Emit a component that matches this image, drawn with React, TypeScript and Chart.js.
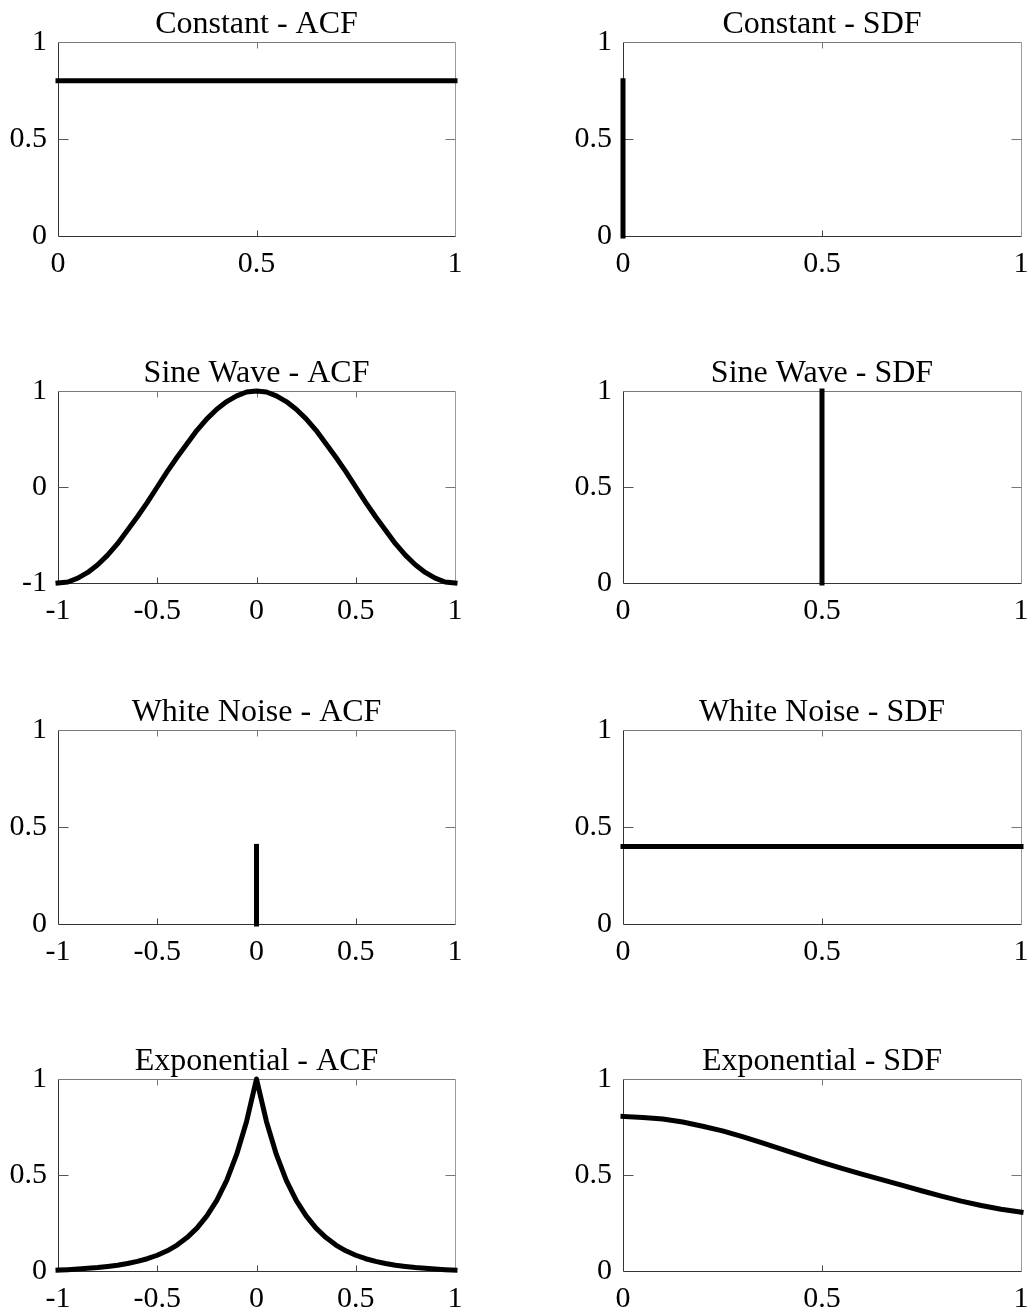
import React, { useEffect, useRef } from 'react';
import { Chart, registerables } from 'chart.js';

Chart.register(...registerables);

// Tick positions
const lagTicks = [-1, -0.5, 0, 0.5, 1];
const freqTicks = [0, 0.5, 1];
const unitTicks = [0, 0.5, 1];
const sineTicks = [-1, 0, 1];

// Constant process
const constantAcfLag = [0, 1];
const constantAcfValue = [0.8, 0.8];
const constantSdfFreq = [0, 0];
const constantSdfValue = [0, 0.8];

// Shared lag grid for the sampled ACF curves
const lagGrid = [
  -1, -0.95, -0.9, -0.85, -0.8, -0.75, -0.7, -0.65, -0.6, -0.55, -0.5, -0.45, -0.4, -0.35, -0.3, -0.25, -0.2,
  -0.15, -0.1, -0.05, 0, 0.05, 0.1, 0.15, 0.2, 0.25, 0.3, 0.35, 0.4, 0.45, 0.5, 0.55, 0.6, 0.65, 0.7, 0.75,
  0.8, 0.85, 0.9, 0.95, 1,
];

// Sine wave
const sineAcfValue = [
  -1, -0.99, -0.95, -0.89, -0.81, -0.71, -0.59, -0.45, -0.31, -0.16, 0, 0.16, 0.31, 0.45, 0.59, 0.71, 0.81,
  0.89, 0.95, 0.99, 1, 0.99, 0.95, 0.89, 0.81, 0.71, 0.59, 0.45, 0.31, 0.16, 0, -0.16, -0.31, -0.45, -0.59,
  -0.71, -0.81, -0.89, -0.95, -0.99, -1,
];
const sineSdfFreq = [0.5, 0.5];
const sineSdfValue = [0, 1];

// White noise
const noiseAcfLag = [0, 0];
const noiseAcfValue = [0, 0.4];
const noiseSdfFreq = [0, 1];
const noiseSdfValue = [0.4, 0.4];

// Exponential
const expAcfValue = [
  0.005, 0.007, 0.01, 0.014, 0.018, 0.024, 0.03, 0.039, 0.05, 0.064, 0.082, 0.105, 0.135, 0.174, 0.223,
  0.287, 0.368, 0.472, 0.607, 0.779, 1, 0.779, 0.607, 0.472, 0.368, 0.287, 0.223, 0.174, 0.135, 0.105,
  0.082, 0.064, 0.05, 0.039, 0.03, 0.024, 0.018, 0.014, 0.01, 0.007, 0.005,
];
const expSdfFreq = [
  0, 0.05, 0.1, 0.15, 0.2, 0.25, 0.3, 0.35, 0.4, 0.45, 0.5, 0.55, 0.6, 0.65, 0.7, 0.75, 0.8, 0.85, 0.9, 0.95, 1,
];
const expSdfValue = [
  0.805, 0.8, 0.792, 0.776, 0.754, 0.73, 0.7, 0.667, 0.633, 0.599, 0.566, 0.535, 0.505, 0.476, 0.447, 0.418,
  0.39, 0.364, 0.341, 0.322, 0.307,
];

type PanelSpec = {
  title: string;
  xs: number[];
  ys: number[];
  xTicks: number[];
  yTicks: number[];
  row: number;
  col: number;
};

const panels: PanelSpec[] = [
  { title: 'Constant - ACF', xs: constantAcfLag, ys: constantAcfValue, xTicks: freqTicks, yTicks: unitTicks, row: 0, col: 0 },
  { title: 'Constant - SDF', xs: constantSdfFreq, ys: constantSdfValue, xTicks: freqTicks, yTicks: unitTicks, row: 0, col: 1 },
  { title: 'Sine Wave - ACF', xs: lagGrid, ys: sineAcfValue, xTicks: lagTicks, yTicks: sineTicks, row: 1, col: 0 },
  { title: 'Sine Wave - SDF', xs: sineSdfFreq, ys: sineSdfValue, xTicks: freqTicks, yTicks: unitTicks, row: 1, col: 1 },
  { title: 'White Noise - ACF', xs: noiseAcfLag, ys: noiseAcfValue, xTicks: lagTicks, yTicks: unitTicks, row: 2, col: 0 },
  { title: 'White Noise - SDF', xs: noiseSdfFreq, ys: noiseSdfValue, xTicks: freqTicks, yTicks: unitTicks, row: 2, col: 1 },
  { title: 'Exponential - ACF', xs: lagGrid, ys: expAcfValue, xTicks: lagTicks, yTicks: unitTicks, row: 3, col: 0 },
  { title: 'Exponential - SDF', xs: expSdfFreq, ys: expSdfValue, xTicks: freqTicks, yTicks: unitTicks, row: 3, col: 1 },
];

// Page geometry of the plot boxes
const ROW_BOUNDS = [
  [42, 236],
  [391, 583],
  [730, 924],
  [1079, 1271],
];
const COL_BOUNDS = [
  [58, 455],
  [623, 1021],
];
const COL_CANVAS = [
  [0, 515],
  [515, 516],
];
const TITLE_H = 42;
const BELOW_H = 60;
const Y_AXIS_W = 50;
const X_AXIS_H = 45;

const SERIF = '"Liberation Serif", "Times New Roman", serif';
const TICK_SIZE = 30;
const TITLE_SIZE = 32;

// Box frame with inward tick marks, drawn beneath the data
const framePlugin = {
  id: 'matlabFrame',
  beforeDatasetsDraw(chart: any) {
    const { ctx, chartArea } = chart;
    const { left, right, top, bottom } = chartArea;
    const xs = chart.scales.x;
    const ys = chart.scales.y;
    ctx.save();
    ctx.lineWidth = 1;
    const seg = (x1: number, y1: number, x2: number, y2: number, color: string) => {
      ctx.strokeStyle = color;
      ctx.beginPath();
      ctx.moveTo(x1, y1);
      ctx.lineTo(x2, y2);
      ctx.stroke();
    };
    const L = Math.round(left) + 0.5;
    const R = Math.round(right) + 0.5;
    const T = Math.round(top) + 0.5;
    const B = Math.round(bottom) + 0.5;
    seg(L, T, R, T, '#7a7a7a');
    seg(R, T, R, B, '#9a9a9a');
    seg(L, B, R, B, '#333333');
    seg(L, T, L, B, '#333333');
    xs.ticks.forEach((t: any) => {
      const p = Math.round(xs.getPixelForValue(t.value)) + 0.5;
      if (p <= L + 1 || p >= R - 1) return;
      seg(p, B, p, B - 6, '#444444');
      seg(p, T, p, T + 6, '#777777');
    });
    ys.ticks.forEach((t: any) => {
      const p = Math.round(ys.getPixelForValue(t.value)) + 0.5;
      if (p <= T + 1 || p >= B - 1) return;
      seg(L, p, L + 10, p, '#555555');
      seg(R, p, R - 10, p, '#777777');
    });
    ctx.restore();
  },
};

function PanelChart({ spec }: { spec: PanelSpec }) {
  const ref = useRef<HTMLCanvasElement | null>(null);
  const [plotTop, plotBottom] = ROW_BOUNDS[spec.row];
  const [plotLeft, plotRight] = COL_BOUNDS[spec.col];
  const [canvasLeft, canvasW] = COL_CANVAS[spec.col];
  const canvasTop = plotTop - TITLE_H;
  const canvasH = TITLE_H + (plotBottom - plotTop) + BELOW_H;

  useEffect(() => {
    if (!ref.current) return;
    const xMin = spec.xTicks[0];
    const xMax = spec.xTicks[spec.xTicks.length - 1];
    const yMin = spec.yTicks[0];
    const yMax = spec.yTicks[spec.yTicks.length - 1];
    const chart = new Chart(ref.current, {
      type: 'line',
      data: {
        datasets: [
          {
            data: spec.xs.map((x, i) => ({ x, y: spec.ys[i] })),
            borderColor: '#000000',
            borderWidth: 5,
            borderCapStyle: 'square',
            borderJoinStyle: 'round',
            pointRadius: 0,
            tension: 0,
            fill: false,
            clip: false,
          } as any,
        ],
      },
      options: {
        animation: false,
        responsive: false,
        devicePixelRatio: 1,
        events: [],
        layout: {
          padding: {
            left: plotLeft - canvasLeft - Y_AXIS_W,
            right: canvasLeft + canvasW - plotRight,
            top: 0,
            bottom: BELOW_H - X_AXIS_H,
          },
        },
        plugins: {
          legend: { display: false },
          tooltip: { enabled: false },
          title: {
            display: true,
            text: spec.title,
            fullSize: false,
            align: 'center',
            color: '#000000',
            font: { family: SERIF, size: TITLE_SIZE, weight: 'normal', lineHeight: '34px' as any },
            padding: { top: 8, bottom: 0 },
          },
        },
        scales: {
          x: {
            type: 'linear',
            position: 'bottom',
            min: xMin,
            max: xMax,
            grid: { display: false },
            border: { display: false },
            afterBuildTicks: (s: any) => {
              s.ticks = spec.xTicks.map((v) => ({ value: v }));
            },
            afterFit: (s: any) => {
              s.height = X_AXIS_H;
              s.paddingLeft = 0;
              s.paddingRight = 0;
            },
            ticks: {
              padding: 2,
              color: '#000000',
              maxRotation: 0,
              autoSkip: false,
              font: { family: SERIF, size: TICK_SIZE },
              callback: (v: any) => String(v),
            },
          },
          y: {
            type: 'linear',
            position: 'left',
            min: yMin,
            max: yMax,
            grid: { display: false },
            border: { display: false },
            afterBuildTicks: (s: any) => {
              s.ticks = spec.yTicks.map((v) => ({ value: v }));
            },
            afterFit: (s: any) => {
              s.width = Y_AXIS_W;
              s.paddingTop = 0;
              s.paddingBottom = 0;
            },
            ticks: {
              padding: 3,
              color: '#000000',
              autoSkip: false,
              font: { family: SERIF, size: TICK_SIZE },
              callback: (v: any) => String(v),
            },
          },
        },
      },
      plugins: [framePlugin],
    });
    return () => chart.destroy();
  }, [spec]);

  return (
    <canvas
      ref={ref}
      width={canvasW}
      height={canvasH}
      style={{ position: 'absolute', left: canvasLeft, top: canvasTop, width: canvasW, height: canvasH }}
    />
  );
}

export default function App() {
  return (
    <div
      style={{
        position: 'absolute',
        left: 0,
        top: 0,
        width: 1031,
        height: 1312,
        overflow: 'hidden',
        background: '#ffffff',
      }}
    >
      {panels.map((p) => (
        <PanelChart key={p.title} spec={p} />
      ))}
    </div>
  );
}
